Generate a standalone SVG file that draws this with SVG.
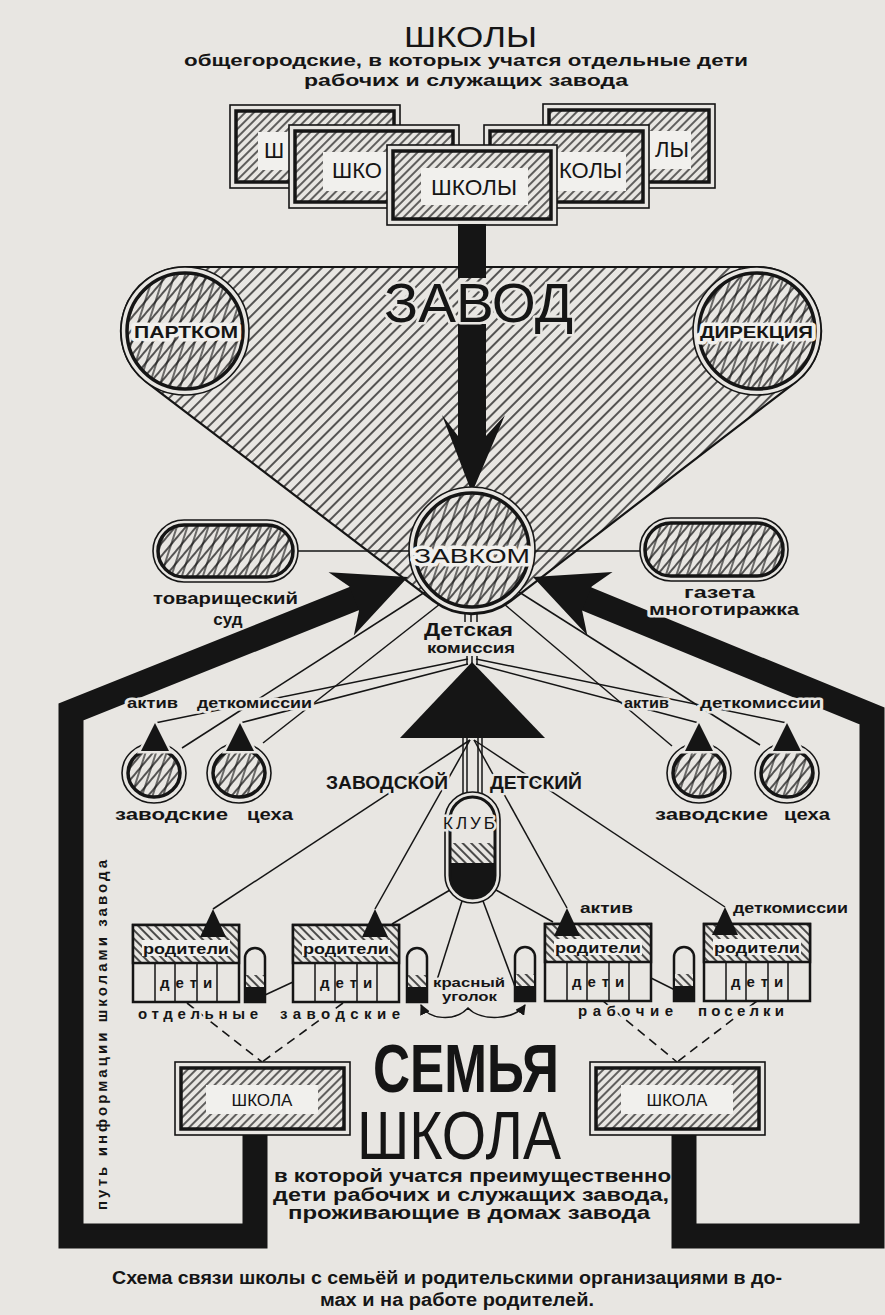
<svg xmlns="http://www.w3.org/2000/svg" width="885" height="1315" viewBox="0 0 885 1315">
<defs>
<style>
text{font-family:"Liberation Sans","DejaVu Sans",sans-serif;fill:#151515}
.b{font-weight:bold}
.halo{paint-order:stroke;stroke:#e8e6e2;stroke-width:5px;stroke-linejoin:round}
.haloW{paint-order:stroke;stroke:#f1f0ed;stroke-width:7px;stroke-linejoin:round}
.ln{stroke:#151515;stroke-width:1.5;fill:none}
.dash{stroke:#151515;stroke-width:1.6;fill:none;stroke-dasharray:9 6}
.o1{fill:#e8e6e2;stroke:#151515;stroke-width:1.6}
.o3{stroke:#151515;stroke-width:3.5}
.o2{stroke:#151515;stroke-width:2.5}
.lab{fill:#f1f0ed}
.blk{fill:#151515}
.tri{fill:#151515;stroke:#e8e6e2;stroke-width:5;paint-order:stroke}
.bar{fill:none;stroke:#151515;stroke-width:25;stroke-linejoin:miter}
</style>
<pattern id="hT" width="8" height="8" patternUnits="userSpaceOnUse" patternTransform="rotate(45)"><rect width="8" height="8" fill="#e8e6e2"/><line x1="1" y1="0" x2="1" y2="8" stroke="#151515" stroke-width="1.4"/></pattern>
<pattern id="hS" width="6" height="6" patternUnits="userSpaceOnUse" patternTransform="rotate(45)"><rect width="6" height="6" fill="#e8e6e2"/><line x1="1" y1="0" x2="1" y2="6" stroke="#151515" stroke-width="1.3"/></pattern>
<pattern id="hB" width="6" height="6" patternUnits="userSpaceOnUse" patternTransform="rotate(-45)"><rect width="6" height="6" fill="#e8e6e2"/><line x1="1" y1="0" x2="1" y2="6" stroke="#151515" stroke-width="1.5"/></pattern>
<pattern id="hX1" width="8" height="8" patternUnits="userSpaceOnUse" patternTransform="rotate(40)"><rect width="8" height="8" fill="#e8e6e2"/><line x1="1" y1="0" x2="1" y2="8" stroke="#151515" stroke-width="1.4"/></pattern>
<pattern id="hX2" width="10" height="10" patternUnits="userSpaceOnUse" patternTransform="rotate(18)"><line x1="1" y1="0" x2="1" y2="10" stroke="#151515" stroke-width="1.2"/></pattern>
<marker id="ah" viewBox="0 0 10 10" refX="9" refY="5" markerWidth="7" markerHeight="7" orient="auto-start-reverse"><path d="M0,0 L10,5 L0,10 Z" fill="#151515"/></marker>
<clipPath id="clubClip"><rect x="450" y="797" width="45" height="101" rx="22.5"/></clipPath>
</defs>
<rect width="885" height="1315" fill="#e8e6e2"/>

<g id="title">
<text x="404" y="47" font-size="29" textLength="133" lengthAdjust="spacingAndGlyphs">ШКОЛЫ</text>
<text class="b" x="184" y="66" font-size="17" textLength="564" lengthAdjust="spacingAndGlyphs">общегородские, в которых учатся отдельные дети</text>
<text class="b" x="304" y="86" font-size="17" textLength="324" lengthAdjust="spacingAndGlyphs">рабочих и служащих завода</text>
</g>

<g id="school-back-left">
<rect class="o1" x="230" y="105" width="170" height="83"/>
<rect class="o3" fill="url(#hS)" x="236" y="111" width="158" height="71"/>
<rect class="lab" x="258" y="132" width="114" height="38"/>
<text x="264" y="158" font-size="22">Ш</text>
</g>
<g id="school-back-right">
<rect class="o1" x="543" y="104" width="172" height="84"/>
<rect class="o3" fill="url(#hS)" x="549" y="110" width="160" height="72"/>
<rect class="lab" x="578" y="131" width="113" height="38"/>
<text x="655" y="157" font-size="22">ЛЫ</text>
</g>
<g id="school-mid-left">
<rect class="o1" x="289" y="125" width="170" height="83"/>
<rect class="o3" fill="url(#hS)" x="295" y="131" width="158" height="71"/>
<rect class="lab" x="323" y="152" width="110" height="39"/>
<text x="332" y="178" font-size="22">ШКО</text>
</g>
<g id="school-mid-right">
<rect class="o1" x="484" y="125" width="165" height="83"/>
<rect class="o3" fill="url(#hS)" x="490" y="131" width="153" height="71"/>
<rect class="lab" x="508" y="152" width="118" height="39"/>
<text x="559" y="178" font-size="22">КОЛЫ</text>
</g>
<g id="school-front">
<rect class="o1" x="387" y="145" width="170" height="80"/>
<rect class="o3" fill="url(#hS)" x="393" y="151" width="158" height="68"/>
<rect class="lab" x="421" y="168" width="107" height="37"/>
<text x="431" y="195" font-size="22" textLength="86" lengthAdjust="spacingAndGlyphs">ШКОЛЫ</text>
</g>

<g id="zavod">
<path d="M185,267 L757,267 A64 64 0 0 1 796,381.8 L511,600.8 A64 64 0 0 1 433.2,600.9 L146.2,381.9 A64 64 0 0 1 185,267 Z" fill="url(#hT)" stroke="#151515" stroke-width="2.2"/>
</g>
<g id="partkom">
<circle class="o1" cx="185" cy="331" r="64"/>
<circle class="o3" fill="url(#hX1)" cx="185" cy="331" r="58"/>
<circle fill="url(#hX2)" cx="185" cy="331" r="57"/>
<text class="b haloW" x="134" y="338" font-size="17" textLength="104" lengthAdjust="spacingAndGlyphs">ПАРТКОМ</text>
</g>
<g id="direkcia">
<circle class="o1" cx="757" cy="331" r="64"/>
<circle class="o3" fill="url(#hX1)" cx="757" cy="331" r="58"/>
<circle fill="url(#hX2)" cx="757" cy="331" r="57"/>
<text class="b haloW" x="700" y="338" font-size="17" textLength="113" lengthAdjust="spacingAndGlyphs">ДИРЕКЦИЯ</text>
</g>

<g id="connectors">
<rect class="blk" x="458" y="224" width="28" height="54"/>
<polygon class="blk" points="458,324 486,324 486,436 505,415 474,488 470,488 442,415 458,436"/>
<line class="ln" x1="298" y1="551" x2="410" y2="551"/>
<line class="ln" x1="535" y1="551" x2="640" y2="551"/>
<line class="ln" x1="182" y1="748" x2="425" y2="592"/>
<line class="ln" x1="263" y1="743" x2="440" y2="604"/>
<line class="ln" x1="672" y1="746" x2="504" y2="604"/>
<line class="ln" x1="760" y1="745" x2="519" y2="592"/>
<line class="ln" x1="155" y1="723" x2="468" y2="659"/>
<line class="ln" x1="240" y1="723" x2="468" y2="664"/>
<line class="ln" x1="699" y1="723" x2="476" y2="664"/>
<line class="ln" x1="787" y1="723" x2="476" y2="659"/>
<line class="ln" x1="465" y1="613" x2="465" y2="622"/>
<line class="ln" x1="471" y1="613" x2="471" y2="622"/>
<line class="ln" x1="477" y1="613" x2="477" y2="622"/>
<line class="ln" x1="467" y1="656" x2="467" y2="665"/>
<line class="ln" x1="472" y1="656" x2="472" y2="665"/>
<line class="ln" x1="477" y1="656" x2="477" y2="665"/>
<line class="ln" x1="470" y1="740" x2="213" y2="909"/>
<line class="ln" x1="470" y1="740" x2="375" y2="909"/>
<line class="ln" x1="474" y1="740" x2="567" y2="908"/>
<line class="ln" x1="474" y1="740" x2="725" y2="907"/>
<line class="ln" x1="463" y1="738" x2="463" y2="798"/>
<line class="ln" x1="467" y1="738" x2="467" y2="798"/>
<line class="ln" x1="478" y1="738" x2="478" y2="798"/>
<line class="ln" x1="482" y1="738" x2="482" y2="798"/>
<line class="ln" x1="450" y1="890" x2="392" y2="924"/>
<line class="ln" x1="462" y1="901" x2="437" y2="980"/>
<line class="ln" x1="483" y1="901" x2="517" y2="992"/>
<line class="ln" x1="496" y1="890" x2="553" y2="922"/>
<line class="ln" x1="265" y1="995" x2="293" y2="982"/>
<line class="ln" x1="651" y1="978" x2="675" y2="990"/>
<path class="ln" d="M421,1005 C428,1020 455,1022 468,1008 C481,1022 515,1020 525,1005" marker-start="url(#ah)" marker-end="url(#ah)"/>
<line class="dash" x1="187" y1="1003" x2="262" y2="1062"/>
<line class="dash" x1="343" y1="1003" x2="262" y2="1062"/>
<line class="dash" x1="603" y1="1001" x2="677" y2="1062"/>
<line class="dash" x1="757" y1="1001" x2="677" y2="1062"/>
<path class="bar" d="M255,1130 L255,1236 L71,1236 L71,712 L361.6,595.6"/>
<polygon class="blk" points="408,577 328.6,572.2 349.4,586.5 359,610.7 353.8,635.4"/>
<path class="bar" d="M684,1130 L684,1236 L872,1236 L872,716 L579.5,596"/>
<polygon class="blk" points="533,577 612.5,572 591.7,586.4 582.1,610.6 587.3,635.2"/>
</g>

<g id="zavod-label">
<text class="halo" x="384" y="322" font-size="56" textLength="189" lengthAdjust="spacingAndGlyphs">ЗАВОД</text>
</g>

<g id="zavkom">
<circle class="o1" cx="472" cy="550" r="63"/>
<circle class="o3" fill="url(#hX1)" cx="472" cy="550" r="57"/>
<circle fill="url(#hX2)" cx="472" cy="550" r="56"/>
<text class="haloW" x="414" y="563" font-size="21" textLength="116" lengthAdjust="spacingAndGlyphs">ЗАВКОМ</text>
</g>

<g id="tovarishchesky-sud">
<rect class="o1" x="153" y="520" width="145" height="62" rx="31"/>
<rect class="o3" fill="url(#hX1)" x="158" y="525" width="135" height="52" rx="26"/>
<rect fill="url(#hX2)" x="159" y="526" width="133" height="50" rx="25"/>
<text class="b" x="153" y="604" font-size="17" textLength="145" lengthAdjust="spacingAndGlyphs">товарищеский</text>
<text class="b" x="228" y="625" font-size="17" text-anchor="middle">суд</text>
</g>
<g id="gazeta">
<rect class="o1" x="640" y="518" width="148" height="63" rx="31"/>
<rect class="o3" fill="url(#hX1)" x="645" y="523" width="138" height="53" rx="26"/>
<rect fill="url(#hX2)" x="646" y="524" width="136" height="51" rx="25"/>
<text class="b halo" x="684" y="598" font-size="17" textLength="71" lengthAdjust="spacingAndGlyphs">газета</text>
<text class="b halo" x="649" y="615" font-size="17" textLength="150" lengthAdjust="spacingAndGlyphs">многотиражка</text>
</g>

<g id="detskaya-komissiya">
<text class="b" x="424" y="636" font-size="18" textLength="89" lengthAdjust="spacingAndGlyphs">Детская</text>
<text class="b" x="427" y="653" font-size="14" textLength="88" lengthAdjust="spacingAndGlyphs">комиссия</text>
<polygon class="blk" points="472,662 400,738 545,738"/>
</g>

<g id="aktiv-left">
<text class="b halo" font-size="14"><tspan x="127" y="708" textLength="51" lengthAdjust="spacingAndGlyphs">актив</tspan> <tspan x="197" y="708" textLength="115" lengthAdjust="spacingAndGlyphs">деткомиссии</tspan></text>
</g>
<g id="aktiv-right">
<text class="b halo" font-size="14"><tspan x="624" y="708" textLength="45" lengthAdjust="spacingAndGlyphs">актив</tspan> <tspan x="700" y="708" textLength="121" lengthAdjust="spacingAndGlyphs">деткомиссии</tspan></text>
</g>

<g id="tsekh-1">
<ellipse class="o1" cx="154" cy="773" rx="32" ry="30"/>
<ellipse class="o3" fill="url(#hX1)" cx="154" cy="773" rx="26" ry="24"/>
<ellipse fill="url(#hX2)" cx="154" cy="773" rx="25" ry="23"/>
<polygon class="tri" points="155,723 141,751 169,751"/>
</g>
<g id="tsekh-2">
<ellipse class="o1" cx="239" cy="773" rx="32" ry="30"/>
<ellipse class="o3" fill="url(#hX1)" cx="239" cy="773" rx="26" ry="24"/>
<ellipse fill="url(#hX2)" cx="239" cy="773" rx="25" ry="23"/>
<polygon class="tri" points="240,723 226,751 254,751"/>
</g>
<g id="tsekh-3">
<ellipse class="o1" cx="699" cy="773" rx="32" ry="30"/>
<ellipse class="o3" fill="url(#hX1)" cx="699" cy="773" rx="26" ry="24"/>
<ellipse fill="url(#hX2)" cx="699" cy="773" rx="25" ry="23"/>
<polygon class="tri" points="699,723 685,751 713,751"/>
</g>
<g id="tsekh-4">
<ellipse class="o1" cx="787" cy="773" rx="32" ry="30"/>
<ellipse class="o3" fill="url(#hX1)" cx="787" cy="773" rx="26" ry="24"/>
<ellipse fill="url(#hX2)" cx="787" cy="773" rx="25" ry="23"/>
<polygon class="tri" points="787,723 773,751 801,751"/>
</g>
<g id="tsekh-labels">
<text class="b" font-size="17"><tspan x="115" y="820" textLength="113" lengthAdjust="spacingAndGlyphs">заводские</tspan> <tspan x="247" y="820" textLength="46" lengthAdjust="spacingAndGlyphs">цеха</tspan></text>
<text class="b" font-size="17"><tspan x="655" y="820" textLength="113" lengthAdjust="spacingAndGlyphs">заводские</tspan> <tspan x="784" y="820" textLength="46" lengthAdjust="spacingAndGlyphs">цеха</tspan></text>
</g>

<g id="klub">
<text class="b halo" x="326" y="789" font-size="18" textLength="122" lengthAdjust="spacingAndGlyphs">ЗАВОДСКОЙ</text>
<text class="b halo" x="490" y="789" font-size="18" textLength="92" lengthAdjust="spacingAndGlyphs">ДЕТСКИЙ</text>
<rect class="o1" x="445" y="792" width="55" height="111" rx="27.5"/>
<g clip-path="url(#clubClip)">
<rect x="450" y="797" width="45" height="101" fill="#e8e6e2"/>
<rect x="450" y="843" width="45" height="20" fill="url(#hB)"/>
<rect x="450" y="863" width="45" height="40" fill="#151515"/>
</g>
<rect x="450" y="797" width="45" height="101" rx="22.5" fill="none" stroke="#151515" stroke-width="3"/>
<text class="halo" x="443" y="829" font-size="17" textLength="52" lengthAdjust="spacing">КЛУБ</text>
</g>

<g id="house-1">
<rect class="o2" fill="#e8e6e2" x="133" y="925" width="106" height="77"/>
<rect class="o2" fill="url(#hB)" x="133" y="925" width="106" height="38"/>
<rect class="lab" x="142" y="940" width="88" height="16"/>
<text class="b" x="143" y="954" font-size="14" textLength="86" lengthAdjust="spacingAndGlyphs">родители</text>
<path class="ln" d="M155,963 V1002 M175,963 V1002 M197,963 V1002 M217,963 V1002"/>
<text class="b" x="160" y="988" font-size="15" letter-spacing="6">дети</text>
<polygon class="blk" points="213,909 200,937 226,937"/>
</g>
<g id="house-2">
<rect class="o2" fill="#e8e6e2" x="293" y="925" width="106" height="77"/>
<rect class="o2" fill="url(#hB)" x="293" y="925" width="106" height="38"/>
<rect class="lab" x="302" y="940" width="88" height="16"/>
<text class="b" x="303" y="954" font-size="14" textLength="86" lengthAdjust="spacingAndGlyphs">родители</text>
<path class="ln" d="M315,963 V1002 M335,963 V1002 M357,963 V1002 M377,963 V1002"/>
<text class="b" x="320" y="988" font-size="15" letter-spacing="6">дети</text>
<polygon class="blk" points="375,909 362,937 388,937"/>
</g>
<g id="house-3">
<rect class="o2" fill="#e8e6e2" x="545" y="924" width="106" height="77"/>
<rect class="o2" fill="url(#hB)" x="545" y="924" width="106" height="38"/>
<rect class="lab" x="554" y="939" width="88" height="16"/>
<text class="b" x="555" y="953" font-size="14" textLength="86" lengthAdjust="spacingAndGlyphs">родители</text>
<path class="ln" d="M567,962 V1001 M587,962 V1001 M609,962 V1001 M629,962 V1001"/>
<text class="b" x="572" y="987" font-size="15" letter-spacing="6">дети</text>
<polygon class="blk" points="567,908 554,936 580,936"/>
</g>
<g id="house-4">
<rect class="o2" fill="#e8e6e2" x="704" y="924" width="106" height="77"/>
<rect class="o2" fill="url(#hB)" x="704" y="924" width="106" height="38"/>
<rect class="lab" x="713" y="939" width="88" height="16"/>
<text class="b" x="714" y="953" font-size="14" textLength="86" lengthAdjust="spacingAndGlyphs">родители</text>
<path class="ln" d="M726,962 V1001 M746,962 V1001 M768,962 V1001 M788,962 V1001"/>
<text class="b" x="731" y="987" font-size="15" letter-spacing="6">дети</text>
<polygon class="blk" points="725,907 712,935 738,935"/>
</g>
<g id="house-labels">
<text class="b" x="580" y="913" font-size="14" textLength="53" lengthAdjust="spacingAndGlyphs">актив</text>
<text class="b" x="733" y="913" font-size="14" textLength="115" lengthAdjust="spacingAndGlyphs">деткомиссии</text>
<text class="b halo" x="138" y="1019" font-size="15" textLength="120" lengthAdjust="spacing">отдельные</text>
<text class="b halo" x="280" y="1019" font-size="15" textLength="120" lengthAdjust="spacing">заводские</text>
<text class="b halo" x="578" y="1016" font-size="15" textLength="95" lengthAdjust="spacing">рабочие</text>
<text class="b halo" x="698" y="1016" font-size="15" textLength="86" lengthAdjust="spacing">поселки</text>
</g>

<g id="pill-1">
<path class="o2" fill="#e8e6e2" d="M245,1002 V958 A10 10 0 0 1 265,958 V1002 Z"/>
<rect x="246" y="975" width="18" height="12" fill="url(#hB)"/>
<rect class="blk" x="245" y="987" width="20" height="15"/>
</g>
<g id="pill-2">
<path class="o2" fill="#e8e6e2" d="M407,1002 V958 A10 10 0 0 1 427,958 V1002 Z"/>
<rect x="408" y="975" width="18" height="12" fill="url(#hB)"/>
<rect class="blk" x="407" y="987" width="20" height="15"/>
</g>
<g id="pill-3">
<path class="o2" fill="#e8e6e2" d="M515,1001 V957 A10 10 0 0 1 535,957 V1001 Z"/>
<rect x="516" y="974" width="18" height="12" fill="url(#hB)"/>
<rect class="blk" x="515" y="986" width="20" height="15"/>
</g>
<g id="pill-4">
<path class="o2" fill="#e8e6e2" d="M674,1001 V957 A10 10 0 0 1 694,957 V1001 Z"/>
<rect x="675" y="974" width="18" height="12" fill="url(#hB)"/>
<rect class="blk" x="674" y="986" width="20" height="15"/>
</g>
<g id="krasny-ugolok">
<text class="b halo" x="433" y="987" font-size="13" textLength="72" lengthAdjust="spacingAndGlyphs">красный</text>
<text class="b halo" x="442" y="1001" font-size="13" textLength="55" lengthAdjust="spacingAndGlyphs">уголок</text>
</g>

<g id="school-left">
<rect class="o1" x="175" y="1062" width="175" height="73"/>
<rect class="o3" fill="url(#hS)" x="181" y="1068" width="163" height="61"/>
<rect class="lab" x="206" y="1085" width="112" height="29"/>
<text x="262" y="1106" font-size="17" text-anchor="middle">ШКОЛА</text>
</g>
<g id="school-right">
<rect class="o1" x="590" y="1062" width="175" height="73"/>
<rect class="o3" fill="url(#hS)" x="596" y="1068" width="163" height="61"/>
<rect class="lab" x="621" y="1085" width="112" height="29"/>
<text x="677" y="1106" font-size="17" text-anchor="middle">ШКОЛА</text>
</g>

<g id="semya-shkola">
<text class="b" x="373" y="1092" font-size="68" textLength="186" lengthAdjust="spacingAndGlyphs">СЕМЬЯ</text>
<text x="357" y="1159" font-size="68" textLength="204" lengthAdjust="spacingAndGlyphs">ШКОЛА</text>
<text class="b" x="274" y="1182" font-size="18" textLength="397" lengthAdjust="spacingAndGlyphs">в которой учатся преимущественно</text>
<text class="b" x="273" y="1201" font-size="18" textLength="396" lengthAdjust="spacingAndGlyphs">дети рабочих и служащих завода,</text>
<text class="b" x="288" y="1219" font-size="18" textLength="362" lengthAdjust="spacingAndGlyphs">проживающие в домах завода</text>
</g>

<g id="path-label">
<text class="b" transform="translate(107,1210) rotate(-90)" font-size="15" textLength="350" lengthAdjust="spacing">путь информации школами завода</text>
</g>

<g id="caption">
<text class="b" x="112" y="1284" font-size="18" textLength="670" lengthAdjust="spacingAndGlyphs">Схема связи школы с семьёй и родительскими организациями в до-</text>
<text class="b" x="320" y="1306" font-size="18" textLength="274" lengthAdjust="spacingAndGlyphs">мах и на работе родителей.</text>
</g>
</svg>
